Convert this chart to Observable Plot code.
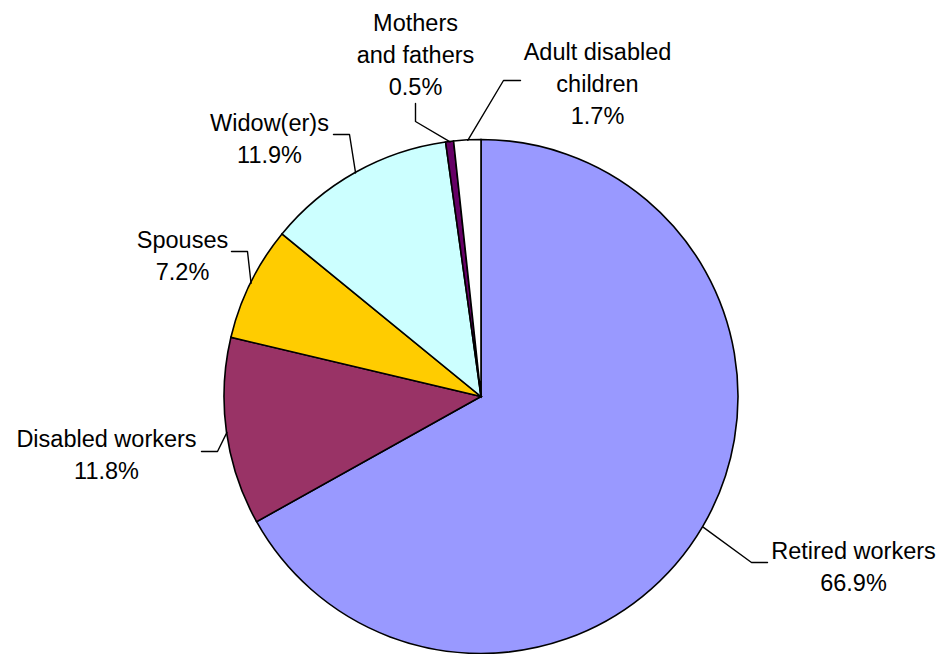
<!DOCTYPE html>
<html>
<head>
<meta charset="utf-8">
<script src="https://cdn.jsdelivr.net/npm/d3@7"></script>
<script src="https://cdn.jsdelivr.net/npm/@observablehq/plot@0.6"></script>
<style>
  html, body { margin: 0; padding: 0; background: #fff; }
  #chart svg { display: block; }
</style>
</head>
<body>
<div id="chart"></div>
<script>
// ---- data ----
const categories = ["Retired workers", "Disabled workers", "Spouses", "Widow(er)s", "Mothers and fathers", "Adult disabled children"];
const shares = [66.9, 11.8, 7.2, 11.9, 0.5, 1.7];
const labelTexts = ["Retired workers", "Disabled workers", "Spouses", "Widow(er)s", "Mothers\nand fathers", "Adult disabled\nchildren"];
const sliceColors = ["#9999FF", "#993366", "#FFCC00", "#CCFFFF", "#660066", "#FFFFFF"];

// ---- layout (pixel space of the drawing) ----
const W = 941, H = 654;
const pieCenter = [481, 396.5];
const pieRadius = 257;
// label block centre, leader elbow and leader end for each category
const labelPos = [[853, 564.5], [106, 452], [182, 253.5], [269, 136.5], [415, 52.5], [597, 81.5]];
const elbowPos = [[751, 562], [217, 451], [247, 251], [349, 134], [415, 121], [503, 80]];
const endPos   = [[767, 562], [201, 451], [231, 251], [333, 134], [415, 103], [520, 80]];

const arcs = d3.pie().sort(null).value(d => d)(shares);

const slices = arcs.map((a, i) => ({key: categories[i], start: a.startAngle, end: a.endAngle, color: sliceColors[i]}));

const leaders = [];
arcs.forEach((a, i) => {
  const mid = (a.startAngle + a.endAngle) / 2;
  const p0 = [pieCenter[0] + pieRadius * Math.sin(mid), pieCenter[1] - pieRadius * Math.cos(mid)];
  [p0, elbowPos[i], endPos[i]].forEach(p => leaders.push({key: categories[i], x: p[0], y: p[1]}));
});

const labels = categories.map((c, i) => ({
  key: c,
  x: labelPos[i][0],
  y: labelPos[i][1],
  text: labelTexts[i] + "\n" + shares[i].toFixed(1) + "%"
}));

// custom pie mark drawn through Plot's x/y scales
function pieMark(index, scales) {
  const sx = scales && typeof scales.x === "function" ? scales.x : v => v;
  const sy = scales && typeof scales.y === "function" ? scales.y : v => v;
  const cx = sx(pieCenter[0]), cy = sy(pieCenter[1]);
  const r = Math.abs(sx(pieCenter[0] + pieRadius) - cx);
  const arcGen = d3.arc().innerRadius(0).outerRadius(r);
  const g = d3.create("svg:g").attr("transform", `translate(${cx},${cy})`);
  g.selectAll("path")
    .data(slices)
    .join("path")
    .attr("d", d => arcGen({startAngle: d.start, endAngle: d.end}))
    .attr("fill", d => d.color)
    .attr("stroke", "#000")
    .attr("stroke-width", 1.6)
    .attr("stroke-linejoin", "miter");
  return g.node();
}

const chart = Plot.plot({
  width: W,
  height: H,
  margin: 0,
  x: {domain: [0, W], range: [0, W], axis: null},
  y: {domain: [0, H], range: [0, H], axis: null},
  style: {fontFamily: "'Liberation Sans', Arial, sans-serif", background: "#fff"},
  marks: [
    pieMark,
    Plot.line(leaders, {x: "x", y: "y", z: "key", stroke: "#000", strokeWidth: 1.4, curve: "linear"}),
    Plot.text(labels, {x: "x", y: "y", text: "text", fontSize: 23.5, lineHeight: 1.36, lineAnchor: "middle", textAnchor: "middle", fill: "#000"})
  ]
});

document.getElementById("chart").appendChild(chart);
</script>
</body>
</html>
